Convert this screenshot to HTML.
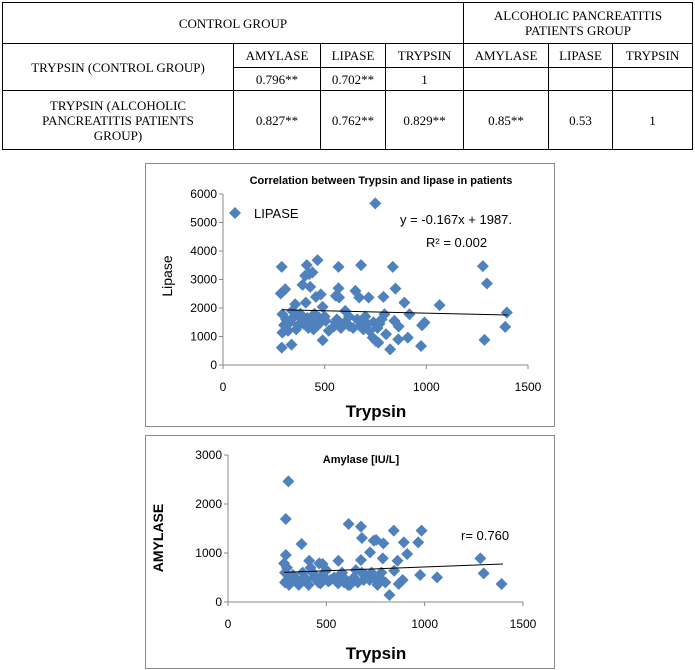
<!DOCTYPE html>
<html><head><meta charset="utf-8"><style>
body{margin:0;width:695px;height:670px;background:#fff;position:relative;overflow:hidden}
table{position:absolute;left:2px;top:2px;border-collapse:collapse;font-family:"Liberation Serif",serif;font-size:13px;color:#000}
td{border:1px solid #000;text-align:center;padding:0 2px;line-height:15px}
.box{position:absolute;border:1px solid #888;background:#fff}
svg text{font-family:"Liberation Sans",sans-serif}
</style></head><body>
<table>
<colgroup><col style="width:231px"><col style="width:87px"><col style="width:65px"><col style="width:78px"><col style="width:85px"><col style="width:64px"><col style="width:80px"></colgroup>
<tr style="height:41px"><td colspan="4">CONTROL GROUP</td><td colspan="3">ALCOHOLIC PANCREATITIS<br>PATIENTS GROUP</td></tr>
<tr style="height:24px"><td rowspan="2">TRYPSIN (CONTROL GROUP)</td><td>AMYLASE</td><td>LIPASE</td><td>TRYPSIN</td><td>AMYLASE</td><td>LIPASE</td><td>TRYPSIN</td></tr>
<tr style="height:23px"><td>0.796**</td><td>0.702**</td><td>1</td><td></td><td></td><td></td></tr>
<tr style="height:59px"><td>TRYPSIN (ALCOHOLIC<br>PANCREATITIS PATIENTS<br>GROUP)</td><td>0.827**</td><td>0.762**</td><td>0.829**</td><td>0.85**</td><td>0.53</td><td>1</td></tr>
</table>

<svg id="c1" class="box" style="left:145px;top:163px" width="408" height="262"></svg>
<svg id="c2" class="box" style="left:145px;top:435px" width="408" height="232"></svg>

<script>
const lipX=[289,284,306,292,292,289,337,391,412,424,404,465,440,429,457,481,407,490,355,473,490,555,568,568,571,555,601,621,651,679,670,716,695,736,752,749,764,789,794,802,822,835,848,843,862,864,892,917,909,974,979,991,1065,1278,1298,1286,1388,1396,330,350,370,390,420,450,480,500,520,340,360,380,430,460,600,620,640,660,680,700,720,740,760,780,700,560,580,300,310,320,395,415,445,505,610,690,770,545];
const lipY=[3445,2508,2660,1780,1137,609,715,2813,3504,3188,3130,3680,3250,2740,2390,2480,2190,2040,2130,1660,870,2425,3445,2695,2370,1490,1900,1370,2600,3504,2370,2370,1550,960,844,5670,785,2390,1780,1080,550,3445,2680,1550,900,1350,2190,1780,960,668,1395,1490,2100,3470,2860,880,1336,1840,1500,1700,1400,1600,1300,1800,1500,1700,1200,1900,1250,1800,1550,1350,1500,1700,1300,1600,1400,1700,1200,1500,1300,1600,1400,1600,1300,1400,1600,1200,1450,1650,1250,1550,1450,1250,1450,1350];
const lipTicksX=[0,500,1000,1500];
const lipTicksY=[0,1000,2000,3000,4000,5000,6000];
const lipTrend=[-0.167,1987,290,1400];

const amyX=[307,294,374,294,285,613,676,681,741,753,790,843,894,911,984,967,1283,1300,1391,821,1063,977,868,888,845,862,787,722,676,561,413,481,464,290,300,320,340,360,380,400,420,440,460,480,500,520,540,560,580,600,620,640,660,680,700,720,740,760,780,800,310,330,350,370,390,410,430,450,470,490,510,570,590,610,650,690,730,770,290,300];
const amyY=[2463,1694,1184,959,789,1592,1537,1306,1252,1265,1197,1456,1218,980,1456,1218,891,585,367,143,503,551,367,449,639,843,891,1014,857,843,843,775,789,600,450,400,500,350,600,450,700,500,400,550,650,450,500,380,600,450,350,500,400,600,550,450,500,350,600,400,350,550,450,400,500,350,600,450,380,500,420,550,400,350,650,450,600,500,400,700];
const amyTicksX=[0,500,1000,1500];
const amyTicksY=[0,1000,2000,3000];
const amyTrend=[0.153,561,285,1398];

const NS="http://www.w3.org/2000/svg";
function mk(svg,tag,attrs,txt){const e=document.createElementNS(NS,tag);for(const k in attrs)e.setAttribute(k,attrs[k]);if(txt!==undefined)e.textContent=txt;svg.appendChild(e);return e;}
function draw(svg,o){
  const sx=v=>o.x0+(v-0)/1500*(o.x1-o.x0);
  const sy=v=>o.y0-(v/o.ymax)*(o.y0-o.y1);
  let ax=mk(svg,'line',{x1:o.x0,y1:o.y0,x2:o.x1,y2:o.y0,stroke:'#888'});
  
  let ay=mk(svg,'line',{x1:o.x0,y1:o.y0,x2:o.x0,y2:o.y1,stroke:'#888'});
  
  o.tx.forEach(t=>{mk(svg,'line',{x1:sx(t),x2:sx(t),y1:o.y0,y2:o.y0+4,stroke:'#888'});
    const e=mk(svg,'text',{x:sx(t),y:o.y0+26,'text-anchor':'middle','font-size':12,fill:'#000'},t);
    });
  o.ty.forEach(t=>{mk(svg,'line',{x1:o.x0-4,x2:o.x0,y1:sy(t),y2:sy(t),stroke:'#888'});
    const e=mk(svg,'text',{x:o.x0-6,y:sy(t)+4,'text-anchor':'end','font-size':12,fill:'#000'},t);
    });
  o.xs.forEach((x,i)=>{const cx=sx(x),cy=sy(o.ys[i]);
    const p=mk(svg,'polygon',{points:`${cx},${cy-6} ${cx+6},${cy} ${cx},${cy+6} ${cx-6},${cy}`,fill:'#4f81bd'});
    });
  const [m,b,a,z]=o.tr;
  const l=mk(svg,'line',{x1:sx(a),y1:sy(m*a+b),x2:sx(z),y2:sy(m*z+b),stroke:'#000','stroke-width':1});
  
}
const c1=document.getElementById('c1'),c2=document.getElementById('c2');
draw(c1,{x0:77,x1:382,y0:201,y1:30,ymax:6000,tx:lipTicksX,ty:lipTicksY,xs:lipX,ys:lipY,tr:lipTrend});
draw(c2,{x0:82,x1:377,y0:166,y1:19,ymax:3000,tx:amyTicksX,ty:amyTicksY,xs:amyX,ys:amyY,tr:amyTrend});
let e;
e=mk(c1,'text',{x:235,y:20,'text-anchor':'middle','font-size':11,'font-weight':'bold'},'Correlation between Trypsin and lipase in patients');

e=mk(c1,'polygon',{points:'89,43 95,49 89,55 83,49',fill:'#4f81bd'});

e=mk(c1,'text',{x:108,y:54,'font-size':13},'LIPASE');

e=mk(c1,'text',{x:254,y:60,'font-size':13},'y = -0.167x + 1987.');

e=mk(c1,'text',{x:280,y:83,'font-size':13},'R² = 0.002');

e=mk(c1,'text',{x:230,y:253,'text-anchor':'middle','font-size':17,'font-weight':'bold'},'Trypsin');

e=mk(c1,'text',{x:26,y:112,'text-anchor':'middle','font-size':14,transform:'rotate(-90 26 112)'},'Lipase');


e=mk(c2,'text',{x:215,y:27,'text-anchor':'middle','font-size':11,'font-weight':'bold'},'Amylase [IU/L]');

e=mk(c2,'text',{x:315,y:104,'font-size':13},'r= 0.760');

e=mk(c2,'text',{x:230,y:223,'text-anchor':'middle','font-size':17,'font-weight':'bold'},'Trypsin');

e=mk(c2,'text',{x:17,y:102,'text-anchor':'middle','font-size':14,'font-weight':'bold',transform:'rotate(-90 17 102)'},'AMYLASE');

</script>
</body></html>
